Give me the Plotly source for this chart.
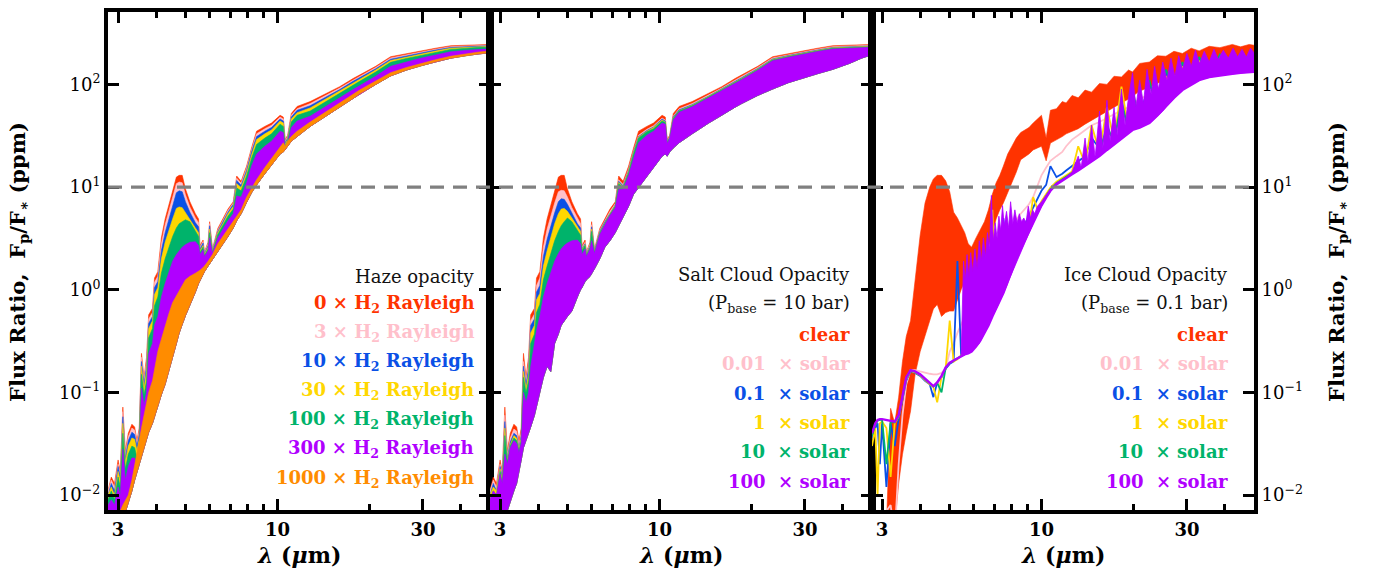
import numpy as np
import plotly.graph_objects as go

# ---------------------------------------------------------------------------
# Emission spectra, planet-to-star flux ratio in ppm.
# Each series is stored as the upper envelope of its (very dense) spectrum;
# the lower envelopes ("floor") mark the bottom of the line forest.
# ---------------------------------------------------------------------------

# wavelength grid (micron) for the haze and salt-cloud panels
lam_grid = [2.78, 2.85, 2.92, 3.00, 3.05, 3.11, 3.17, 3.24, 3.33, 3.40,
            3.46, 3.52, 3.58, 3.65, 3.72, 3.78, 3.89, 3.95, 4.05, 4.16,
            4.28, 4.40, 4.53, 4.66, 4.76, 4.87, 4.99, 5.16, 5.38, 5.51,
            5.57, 5.70, 5.76, 5.92, 5.99, 6.12, 6.37, 6.62, 6.88, 7.16,
            7.35, 7.60, 7.92, 8.22, 8.54, 9.09, 9.56, 10.2, 10.45, 10.6,
            10.8, 11.1, 11.6, 12.8, 14.5, 16.0, 17.7, 18.6, 21.0, 23.5,
            26.5, 29.5, 33.0, 37.0, 42.0, 46.0, 50.0]

# cloud- and haze-free spectrum
clear_top = [0.011, 0.015, 0.013, 0.022, 0.017, 0.072, 0.027, 0.040, 0.049, 0.046,
             0.034, 0.045, 0.24, 0.14, 0.22, 0.57, 0.66, 1.30, 1.50, 3.2,
             4.9, 6.7, 9.0, 12.5, 13.0, 13.0, 9.6, 7.2, 5.5, 4.9,
             2.7, 3.05, 2.35, 2.9, 4.6, 2.5, 3.95, 5.0, 6.1, 7.2,
             12.8, 11.4, 16.0, 24, 35, 39, 42, 50, 48, 29,
             32, 52, 61, 68, 82, 95, 114, 123, 150, 186,
             200, 213, 225, 238, 240, 245, 245]

# --- haze opacity (multiples of H2 Rayleigh scattering) ---
haze_3x = [0.011, 0.014, 0.012, 0.020, 0.016, 0.065, 0.025, 0.037, 0.045, 0.043,
           0.032, 0.042, 0.22, 0.13, 0.20, 0.52, 0.60, 1.18, 1.35, 2.8,
           4.3, 5.8, 7.8, 10.8, 11.2, 11.0, 8.4, 6.4, 5.0, 4.5,
           2.6, 2.95, 2.3, 2.8, 4.4, 2.45, 3.8, 4.8, 5.9, 7.0,
           12.2, 10.9, 15.3, 23, 33, 37, 40, 48, 46, 28,
           31, 50, 58, 65, 79, 92, 110, 119, 146, 181,
           195, 208, 220, 233, 236, 241, 241]
haze_10x = [0.010, 0.013, 0.011, 0.019, 0.015, 0.058, 0.023, 0.034, 0.041, 0.039,
            0.030, 0.039, 0.20, 0.12, 0.18, 0.47, 0.55, 1.05, 1.2, 2.4,
            3.6, 4.8, 6.5, 8.8, 9.2, 9.0, 7.2, 5.7, 4.5, 4.1,
            2.5, 2.85, 2.25, 2.7, 4.2, 2.4, 3.7, 4.6, 5.7, 6.8,
            11.6, 10.4, 14.6, 22, 31, 35, 38, 46, 44, 27,
            30, 48, 56, 62, 76, 89, 107, 116, 142, 176,
            190, 203, 216, 229, 233, 238, 238]
haze_30x = [0.010, 0.012, 0.010, 0.017, 0.014, 0.050, 0.021, 0.030, 0.036, 0.035,
            0.027, 0.035, 0.18, 0.11, 0.16, 0.42, 0.50, 0.90, 1.05, 2.0,
            2.9, 3.8, 4.9, 6.2, 6.4, 6.3, 5.6, 4.8, 4.0, 3.6,
            2.4, 2.7, 2.2, 2.6, 3.9, 2.35, 3.6, 4.4, 5.5, 6.5,
            10.8, 9.9, 13.8, 20.5, 29, 33, 36, 44, 42, 26,
            29, 46, 53, 59, 73, 86, 103, 112, 138, 171,
            185, 198, 211, 225, 230, 235, 235]
haze_100x = [0.009, 0.011, 0.009, 0.015, 0.012, 0.040, 0.018, 0.025, 0.030, 0.029,
             0.023, 0.030, 0.15, 0.095, 0.13, 0.34, 0.42, 0.70, 0.85, 1.45,
             2.0, 2.6, 3.3, 4.0, 4.4, 4.6, 4.8, 4.6, 3.7, 3.3,
             2.3, 2.6, 2.15, 2.5, 3.6, 2.3, 3.45, 4.2, 5.2, 6.1,
             9.8, 9.2, 12.8, 19, 26, 30, 33, 41, 39, 25,
             28, 43, 50, 55, 69, 82, 98, 107, 132, 164,
             179, 192, 205, 219, 225, 230, 230]
haze_300x = [0.008, 0.009, 0.008, 0.012, 0.010, 0.028, 0.014, 0.019, 0.023, 0.023,
             0.019, 0.024, 0.11, 0.075, 0.10, 0.24, 0.30, 0.45, 0.55, 0.85,
             1.15, 1.5, 1.9, 2.2, 2.4, 2.6, 2.75, 2.9, 2.94, 2.7,
             2.2, 2.45, 2.1, 2.4, 3.2, 2.25, 3.2, 3.9, 4.7, 5.5,
             8.2, 8.0, 11.0, 16, 21, 25, 28, 35, 34, 23,
             26, 38, 44, 49, 62, 74, 89, 97, 120, 150,
             166, 180, 193, 208, 215, 220, 222]
haze_1000x = [0.004, 0.004, 0.005, 0.006, 0.007, 0.008, 0.009, 0.010, 0.014, 0.019,
              0.025, 0.034, 0.045, 0.06, 0.08, 0.10, 0.13, 0.17, 0.25, 0.33,
              0.45, 0.58, 0.75, 0.88, 1.0, 1.1, 1.25, 1.35, 1.45, 1.5,
              1.55, 1.65, 1.7, 1.9, 2.0, 2.2, 2.8, 3.3, 3.9, 4.6,
              5.2, 6.0, 8.0, 9.8, 11.8, 15.5, 19, 24, 27, 25,
              28, 31, 35, 43, 55, 66, 80, 88, 108, 130,
              146, 160, 174, 188, 200, 207, 212]
haze_floor = [0.003, 0.003, 0.003, 0.004, 0.005, 0.006, 0.0072, 0.0085, 0.011, 0.014,
              0.017, 0.020, 0.0235, 0.029, 0.035, 0.041, 0.05, 0.058, 0.072, 0.095,
              0.12, 0.16, 0.22, 0.3, 0.38, 0.46, 0.56, 0.72, 0.95, 1.15,
              1.25, 1.4, 1.5, 1.7, 1.8, 2.0, 2.35, 2.8, 3.3, 4.0,
              4.7, 5.5, 7.1, 8.8, 10.5, 13.5, 16.5, 21, 22, 23,
              25, 28, 31, 39, 50, 60, 73, 81, 100, 121,
              138, 152, 166, 180, 192, 199, 204]

# --- salt clouds, P_base = 10 bar (multiples of solar abundance) ---
salt_001x = [0.011, 0.014, 0.012, 0.020, 0.016, 0.060, 0.025, 0.036, 0.044, 0.042,
             0.031, 0.041, 0.20, 0.13, 0.19, 0.50, 0.58, 1.10, 1.30, 2.6,
             3.9, 5.3, 7.0, 9.0, 9.3, 9.2, 8.0, 6.3, 4.9, 4.4,
             2.6, 2.9, 2.3, 2.8, 4.3, 2.45, 3.8, 4.7, 5.8, 6.9,
             11.8, 10.6, 15.0, 22.5, 32, 36.5, 39.5, 47, 45, 28,
             31, 49, 58, 65, 79, 92, 110, 119, 146, 181,
             195, 208, 220, 233, 236, 241, 241]
salt_01x = [0.010, 0.013, 0.011, 0.019, 0.015, 0.052, 0.023, 0.033, 0.040, 0.038,
            0.029, 0.038, 0.18, 0.12, 0.17, 0.45, 0.52, 0.95, 1.1, 2.1,
            3.1, 4.2, 5.6, 7.2, 7.7, 7.6, 6.8, 5.6, 4.4, 4.0,
            2.5, 2.8, 2.25, 2.7, 4.1, 2.4, 3.7, 4.6, 5.6, 6.7,
            11.4, 10.3, 14.5, 22, 31, 35.5, 38.5, 46, 44, 27.5,
            30.5, 48, 56.5, 63.5, 77, 90, 107, 116, 143, 177,
            191, 204, 216, 229, 232, 237, 237]
salt_1x = [0.010, 0.012, 0.011, 0.018, 0.014, 0.045, 0.022, 0.031, 0.038, 0.036,
           0.028, 0.036, 0.16, 0.11, 0.15, 0.38, 0.45, 0.80, 0.92, 1.7,
           2.4, 3.3, 4.4, 5.5, 6.1, 6.2, 5.8, 5.0, 4.1, 3.7,
           2.45, 2.75, 2.2, 2.65, 3.9, 2.35, 3.6, 4.5, 5.5, 6.6,
           11.1, 10.1, 14.2, 21.5, 30.5, 35, 38, 45, 43, 27,
           30, 47, 55.5, 62.5, 76, 89, 105, 114, 141, 175,
           189, 202, 214, 227, 230, 235, 235]
salt_10x = [0.009, 0.011, 0.010, 0.017, 0.013, 0.038, 0.021, 0.030, 0.036, 0.034,
            0.027, 0.034, 0.14, 0.10, 0.13, 0.30, 0.37, 0.60, 0.72, 1.25,
            1.7, 2.3, 3.0, 3.7, 4.2, 4.6, 5.0, 4.6, 3.8, 3.4,
            2.4, 2.7, 2.15, 2.6, 3.7, 2.3, 3.55, 4.4, 5.4, 6.5,
            10.8, 9.9, 13.8, 21, 30, 34.5, 37, 44, 42.5, 27,
            30, 46.5, 55, 62, 75.5, 88, 104, 113, 140, 173,
            187, 200, 212, 225, 228, 233, 233]
salt_100x = [0.009, 0.011, 0.010, 0.016, 0.013, 0.025, 0.020, 0.029, 0.034, 0.032,
             0.026, 0.032, 0.10, 0.08, 0.10, 0.18, 0.30, 0.40, 0.55, 0.85,
             1.15, 1.5, 1.9, 2.25, 2.5, 2.7, 2.85, 3.0, 3.05, 2.8,
             2.2, 2.5, 2.1, 2.5, 3.0, 2.25, 3.45, 4.3, 5.3, 6.3,
             9.5, 9.5, 13, 19, 27, 32, 35, 42, 41, 26.5,
             29.5, 45, 53.5, 60.5, 74, 86, 102, 111, 137, 170,
             184, 197, 209, 221, 224, 229, 230]
salt_floor = [0.003, 0.003, 0.0035, 0.0045, 0.005, 0.006, 0.0072, 0.0085, 0.011, 0.013,
              0.017, 0.022, 0.029, 0.034, 0.040, 0.046, 0.06, 0.075, 0.10, 0.14,
              0.18, 0.16, 0.30, 0.37, 0.45, 0.50, 0.55, 0.62, 0.85, 1.0,
              1.05, 1.2, 1.25, 1.35, 1.45, 1.6, 2.0, 2.6, 3.0, 3.6,
              4.2, 5.0, 6.5, 8.5, 10, 12.5, 15.5, 20, 21, 20,
              22, 24, 27, 33, 42, 50, 60, 65, 78, 90,
              104, 115, 127, 140, 160, 180, 195]

# --- ice clouds, P_base = 0.1 bar ---
lam_ice = [2.78, 2.85, 2.90, 2.95, 3.00, 3.10, 3.20, 3.30, 3.40, 3.50,
           3.60, 3.72, 3.85, 4.00, 4.15, 4.30, 4.42, 4.55, 4.70, 4.85,
           5.00, 5.15, 5.30, 5.45, 5.60, 5.75, 5.90, 6.10, 6.30, 6.50,
           6.70, 6.90, 7.10, 7.30, 7.50, 7.75, 8.00, 8.27, 8.55, 8.85,
           9.10, 9.39, 9.70, 10.0, 10.36, 10.7, 11.2, 11.7, 12.05, 12.6,
           13.2, 13.9, 14.6, 15.5, 16.4, 17.3, 18.3, 19.3, 19.9, 21.0,
           22.6, 24.0, 25.6, 27.2, 29.0, 31.0, 32.9, 35.5, 38.5, 42.3,
           45.0, 48.0, 50.0]
ice_clear_top = [0.003, 0.003, 0.003, 0.003, 0.003, 0.005, 0.07, 0.05, 0.09, 0.2,
                 0.35, 0.5, 1.3, 3.4, 7.0, 10, 12, 13, 13, 11.5,
                 9, 5.7, 5.0, 4.2, 3.6, 2.8, 2.6, 3.2, 3.8, 4.6,
                 6.0, 8.5, 11, 13, 16, 21, 25, 30, 34, 36,
                 38, 42, 46, 50, 30, 56, 58, 68, 66, 78,
                 74, 88, 84, 102, 100, 120, 118, 138, 132, 160,
                 165, 190, 188, 210, 200, 225, 212, 235, 228, 245,
                 232, 245, 240]
ice_clear_bot = [0.003, 0.003, 0.003, 0.003, 0.003, 0.003, 0.003, 0.005, 0.013, 0.025,
                 0.04, 0.066, 0.15, 0.25, 0.34, 0.5, 0.65, 0.72, 0.55, 0.6,
                 0.62, 0.62, 0.8, 1.0, 1.2, 1.3, 1.4, 1.5, 1.7, 2.0,
                 2.6, 3.6, 4.9, 6.0, 7.0, 8.5, 11, 14, 18.5, 20,
                 21, 23, 24, 25, 18, 26.8, 29, 31, 33, 35,
                 37, 41, 45, 50, 55, 60, 66, 72, 76, 86,
                 94, 102, 112, 122, 130, 137, 145, 155, 165, 175,
                 180, 185, 187]
ice_001x = [0.003, 0.004, 0.004, 0.005, 0.006, 0.007, 0.008, 0.004, 0.02, 0.06,
            0.12, 0.165, 0.165, 0.16, 0.155, 0.152, 0.150, 0.150, 0.155, 0.17,
            0.25, 0.30, 0.38, 0.45, 0.55, 0.65, 0.78, 0.95, 1.1, 1.3,
            1.5, 1.75, 2.0, 2.3, 2.7, 3.3, 4.0, 4.8, 5.5, 6.2,
            6.8, 8.0, 10.5, 13, 15.5, 18, 20, 22, 25, 29,
            32, 36, 40, 43, 47, 52, 56, 60, 65, 72,
            80, 90, 100, 110, 118, 125, 132, 138, 142, 145,
            147, 149, 150]
ice_01x = [0.035, 0.045, 0.050, 0.020, 0.050, 0.012, 0.050, 0.030, 0.055, 0.085,
           0.13, 0.16, 0.155, 0.145, 0.13, 0.12, 0.09, 0.125, 0.14, 0.17,
           0.19, 0.20, 1.9, 0.23, 0.24, 1.2, 0.27, 0.30, 1.6, 0.42,
           2.5, 0.6, 3.0, 1.0, 5.0, 1.45, 2.0, 2.9, 3.6, 4.4,
           5.2, 6.3, 7.6, 9.2, 10.5, 16, 12.5, 13.5, 14.5, 16,
           18, 20, 30, 24, 35, 30, 60, 40, 70, 50,
           100, 65, 130, 95, 160, 115, 180, 125, 190, 135,
           200, 140, 170]
ice_1x = [0.030, 0.045, 0.010, 0.050, 0.052, 0.045, 0.015, 0.050, 0.058, 0.088,
          0.135, 0.162, 0.157, 0.147, 0.132, 0.12, 0.113, 0.08, 0.142, 0.172,
          0.5, 0.2, 0.21, 0.23, 0.245, 0.26, 1.0, 0.30, 0.35, 2.0,
          0.48, 6.0, 0.72, 0.85, 3.0, 1.32, 1.75, 2.25, 2.8, 3.5,
          4.1, 8.0, 6.1, 7.3, 8.6, 9.9, 11.3, 12.3, 13, 14.2,
          25, 17, 40, 22, 60, 28, 95, 36, 50, 45,
          80, 60, 120, 90, 150, 110, 170, 122, 180, 132,
          190, 138, 160]
ice_10x = [0.038, 0.048, 0.053, 0.054, 0.054, 0.020, 0.052, 0.051, 0.059, 0.089,
           0.138, 0.164, 0.159, 0.149, 0.134, 0.121, 0.114, 0.124, 0.10, 0.174,
           0.194, 0.204, 0.214, 0.224, 0.234, 0.245, 0.26, 0.29, 0.33, 0.39,
           1.8, 0.57, 0.68, 0.80, 0.96, 1.25, 1.62, 2.1, 2.65, 3.3,
           3.9, 4.75, 5.8, 6.9, 8.2, 9.5, 10.9, 12.0, 12.6, 13.8,
           15.0, 16.6, 18.5, 21, 40, 27, 70, 35, 90, 42,
           110, 55, 140, 85, 165, 105, 185, 120, 195, 130,
           200, 135, 150]
# 100x solar: continuum on the common ice grid ...
ice_100x_base = [0.040, 0.050, 0.054, 0.055, 0.055, 0.054, 0.053, 0.052, 0.060, 0.090,
                 0.14, 0.165, 0.160, 0.150, 0.135, 0.122, 0.115, 0.125, 0.145, 0.175,
                 0.195, 0.205, 0.215, 0.225, 0.235, 0.24, 0.25, 0.28, 0.32, 0.38,
                 0.45, 0.55, 0.66, 0.78, 0.93, 1.2, 1.55, 2.0, 2.5, 3.1,
                 3.7, 4.5, 5.5, 6.6, 7.9, 9.2, 10.6, 11.6, 12.2, 13.3,
                 14.5, 16.0, 17.8, 20, 23, 26, 30, 34, 36, 38,
                 42, 50, 61, 74, 88, 100, 110, 118, 123, 127,
                 130, 132, 133]
# ... and the dense line forest above it, on a finer grid
lam_ice_forest = [5.45, 5.55, 5.62, 5.70, 5.78, 5.86, 5.95, 6.05, 6.15, 6.25,
                  6.35, 6.45, 6.55, 6.65, 6.75, 6.85, 6.95, 7.05, 7.15, 7.25,
                  7.35, 7.45, 7.55, 7.68, 7.80, 7.92, 8.05, 8.18, 8.32, 8.46,
                  8.60, 8.75, 8.90, 9.05, 9.20, 9.35, 9.50, 9.70, 10.0, 10.36,
                  10.7, 11.2, 11.7, 12.05, 12.6, 13.2, 13.5, 13.9, 14.2, 14.6,
                  15.0, 15.5, 15.9, 16.4, 16.8, 17.3, 17.7, 18.3, 18.8, 19.3,
                  19.9, 20.4, 21.0, 21.6, 22.2, 22.9, 23.5, 24.2, 25.0, 25.8,
                  26.6, 27.4, 28.2, 29.0, 30.0, 31.0, 32.0, 33.0, 34.2, 35.5,
                  36.8, 38.0, 39.5, 41.0, 42.5, 44.0, 45.5, 47.0, 48.5, 50.0]
ice_100x_forest_top = [0.225, 1.9, 1.2, 2.2, 1.3, 2.3, 1.5, 2.5, 1.6, 3.0,
                       1.9, 3.2, 2.1, 3.6, 2.5, 8.3, 3.0, 4.5, 3.2, 5.2,
                       3.8, 6.6, 4.2, 5.8, 4.0, 7.2, 4.4, 6.0, 4.5, 5.5,
                       4.6, 5.0, 4.5, 6.5, 5.0, 6.0, 5.5, 6.5, 7.2, 8.4,
                       9.6, 11.0, 11.8, 12.5, 14, 20, 15.5, 30, 17.5, 40,
                       19.5, 55, 24, 70, 28, 60, 32, 90, 40, 75,
                       130, 60, 110, 65, 140, 80, 150, 90, 165, 110,
                       180, 120, 190, 140, 200, 150, 215, 160, 210, 165,
                       220, 175, 215, 180, 225, 185, 220, 185, 225, 200]
ice_100x_forest_base = [0.225, 0.23, 0.235, 0.238, 0.242, 0.248, 0.255, 0.27, 0.285, 0.30,
                        0.33, 0.36, 0.39, 0.43, 0.47, 0.52, 0.57, 0.62, 0.68, 0.74,
                        0.80, 0.88, 0.96, 1.08, 1.22, 1.38, 1.55, 1.75, 1.95, 2.2,
                        2.45, 2.75, 3.1, 3.45, 3.85, 4.3, 4.8, 5.5, 6.6, 7.9,
                        9.2, 10.6, 11.6, 12.2, 13.3, 14.5, 15.2, 16.0, 16.8, 17.8,
                        18.8, 20, 21.5, 23, 24.5, 26, 27.5, 30, 32, 34,
                        36, 37, 38, 40, 41, 43, 46, 50, 55, 62,
                        68, 75, 82, 88, 94, 100, 105, 110, 114, 118,
                        120, 122, 124, 126, 127, 129, 130, 131, 132, 133]

reference_level = 10  # ppm

RED, PINK, BLUE, GOLD = "#ff3300", "#ffc0cb", "#0a50e6", "#ffd700"
GREEN, PURPLE, ORANGE = "#00b36b", "#b000ff", "#ff8c00"
SERIF = "DejaVu Serif"

W, H = 1374, 576
M_L, M_R, M_T, M_B = 108, 120, 8, 66
PLOT_W = W - M_L - M_R
PLOT_H = H - M_T - M_B


def px_x(px):
    return (px - M_L) / PLOT_W


def px_y(py):
    return 1 - (py - M_T) / PLOT_H


def band(lam, top, bottom, color, axis, outline=0.6):
    xs = list(lam) + list(lam)[::-1]
    ys = list(top) + list(bottom)[::-1]
    return go.Scatter(x=xs, y=ys, mode="lines", fill="toself", fillcolor=color,
                      line=dict(color=color, width=outline), hoverinfo="skip",
                      showlegend=False, xaxis="x" + axis, yaxis="y" + axis)


def curve(lam, vals, color, axis, width=1.8):
    return go.Scatter(x=lam, y=vals, mode="lines", line=dict(color=color, width=width),
                      hoverinfo="skip", showlegend=False,
                      xaxis="x" + axis, yaxis="y" + axis)


fig = go.Figure()

# panel 1: haze
for top, col in [(clear_top, RED), (haze_3x, PINK), (haze_10x, BLUE), (haze_30x, GOLD),
                 (haze_100x, GREEN), (haze_300x, PURPLE)]:
    fig.add_trace(band(lam_grid, top, haze_floor, col, ""))
fig.add_trace(band(lam_grid, haze_1000x, haze_floor, ORANGE, ""))

# panel 2: salt clouds
for top, col in [(clear_top, RED), (salt_001x, PINK), (salt_01x, BLUE), (salt_1x, GOLD),
                 (salt_10x, GREEN), (salt_100x, PURPLE)]:
    fig.add_trace(band(lam_grid, top, salt_floor, col, "2"))

# panel 3: ice clouds
fig.add_trace(band(lam_ice, ice_clear_top, ice_clear_bot, RED, "3"))
fig.add_trace(curve(lam_ice, ice_001x, PINK, "3"))
fig.add_trace(curve(lam_ice, ice_01x, BLUE, "3"))
fig.add_trace(curve(lam_ice, ice_1x, GOLD, "3"))
fig.add_trace(curve(lam_ice, ice_10x, GREEN, "3"))
fig.add_trace(band(lam_ice_forest, ice_100x_forest_top, ice_100x_forest_base, PURPLE, "3",
                   outline=0.8))
fig.add_trace(curve(lam_ice, ice_100x_base, PURPLE, "3", width=2.4))

# dashed reference level across all panels
fig.add_shape(type="line", xref="paper", x0=0, x1=1, yref="y",
              y0=reference_level, y1=reference_level,
              line=dict(color="#808080", width=3.2, dash="14px,9px"), layer="above")

x_range = [np.log10(2.78), np.log10(49.8)]
y_range = [-2.145, 2.705]
y_ticks = [0.01, 0.1, 1, 10, 100]
y_text = ["10<sup>\u22122</sup>", "10<sup>\u22121</sup>", "10<sup>0</sup>",
          "10<sup>1</sup>", "10<sup>2</sup>"]


def x_axis(domain, anchor):
    return dict(type="log", range=x_range, domain=domain, anchor=anchor,
                showline=True, linewidth=4, linecolor="black", mirror="ticks",
                ticks="inside", ticklen=11, tickwidth=3, tickcolor="black",
                tickvals=[3, 10, 30], ticktext=["3", "10", "30"],
                tickfont=dict(family=SERIF, size=18, color="black", weight="bold"),
                minor=dict(tickvals=[4, 5, 6, 7, 8, 9, 20, 40], ticks="inside",
                           ticklen=6, tickwidth=3, tickcolor="black"),
                showgrid=False, zeroline=False)


def y_axis(anchor, labels, side="left"):
    return dict(type="log", range=y_range, anchor=anchor, domain=[0, 1], side=side,
                showline=True, linewidth=4, linecolor="black", mirror="ticks",
                ticks="inside", ticklen=11, tickwidth=3, tickcolor="black",
                tickvals=y_ticks, ticktext=y_text, showticklabels=labels,
                tickfont=dict(family=SERIF, size=18, color="black"),
                showgrid=False, zeroline=False)


fig.update_layout(
    width=W, height=H,
    margin=dict(l=M_L, r=M_R, t=M_T, b=M_B),
    paper_bgcolor="white", plot_bgcolor="white",
    xaxis=x_axis([0, 1 / 3], "y"),
    xaxis2=x_axis([1 / 3, 2 / 3], "y2"),
    xaxis3=x_axis([2 / 3, 1], "y3"),
    yaxis=y_axis("x", True),
    yaxis2=y_axis("x2", False),
    yaxis3=y_axis("x3", True, side="right"),
    showlegend=False,
)

ann = []
y_title = "<b>Flux Ratio,  F<sub>p</sub>/F<sub>\u2217</sub> (ppm)</b>"
for xp in (px_x(19), px_x(1338)):
    ann.append(dict(x=xp, y=px_y(260), xref="paper", yref="paper", text=y_title,
                    textangle=-90, showarrow=False, xanchor="center", yanchor="middle",
                    font=dict(family=SERIF, size=21, color="black")))
for xc in (1 / 6, 1 / 2, 5 / 6):
    ann.append(dict(x=xc, y=px_y(555), xref="paper", yref="paper",
                    text="<b><i>\u03bb</i> (<i>\u03bc</i>m)</b>", showarrow=False,
                    xanchor="center", yanchor="middle",
                    font=dict(family=SERIF, size=22, color="black")))

haze_labels = ["0", "3", "10", "30", "100", "300", "1000"]
haze_colors = [RED, PINK, BLUE, GOLD, GREEN, PURPLE, ORANGE]
cloud_labels = ["clear", "0.01", "0.1", "1", "10", "100"]
cloud_colors = [RED, PINK, BLUE, GOLD, GREEN, PURPLE]


def label(xpx, ypx, text, color, bold=True):
    t = "<b>" + text + "</b>" if bold else text
    return dict(x=px_x(xpx), y=px_y(ypx), xref="paper", yref="paper", text=t,
                showarrow=False, xanchor="right", yanchor="middle",
                font=dict(family=SERIF, size=18, color=color))


ann.append(label(476, 275, "Haze opacity", "#111", bold=False))
for i, (n, c) in enumerate(zip(haze_labels, haze_colors)):
    ann.append(label(476, 302 + 29.4 * i, n + " \u00d7 H<sub>2</sub> Rayleigh", c))

for xr, title, pbase in [(852, "Salt Cloud Opacity", "10"), (1230, "Ice Cloud Opacity", "0.1")]:
    ann.append(label(xr, 273, title, "#111", bold=False))
    ann.append(label(xr, 302, "(P<sub>base</sub> = " + pbase + " bar)", "#111", bold=False))
    for i, (n, c) in enumerate(zip(cloud_labels, cloud_colors)):
        txt = n if n == "clear" else n + "  \u00d7 solar"
        ann.append(label(xr, 333 + 29.6 * i, txt, c))

fig.update_layout(annotations=ann)
fig.write_html("out.html", config={"displayModeBar": False})
